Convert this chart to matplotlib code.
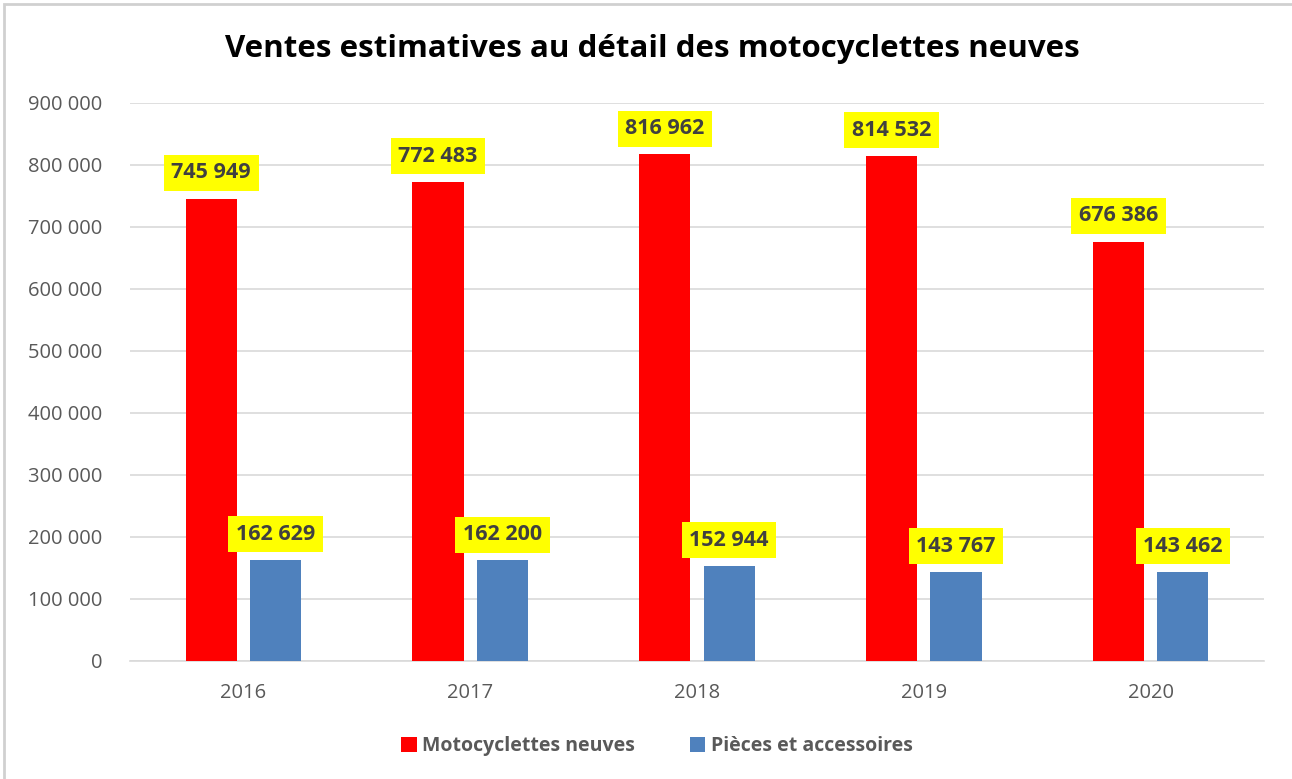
import numpy as np
import matplotlib
matplotlib.use("Agg")
import matplotlib.pyplot as plt
from matplotlib.ticker import FuncFormatter
from matplotlib.patches import Rectangle

plt.rcParams['font.family'] = ['Open Sans', 'DejaVu Sans']

years = ["2016", "2017", "2018", "2019", "2020"]
motos = [745949, 772483, 816962, 814532, 676386]
pieces = [162629, 162200, 152944, 143767, 143462]
series_names = ["Motocyclettes neuves", "Pièces et accessoires"]
colors = ["#ff0000", "#4f81bd"]

def fmt(v):
    return f"{int(v):,}".replace(",", " ")

fig = plt.figure(figsize=(12.92, 7.79), dpi=100)
ax = fig.add_axes([130/1292, 1 - 661/779, 1134/1292, 558/779])

x = np.arange(len(years))
w = 0.225
off = 0.142
b1 = ax.bar(x - off, motos, w, color=colors[0], label=series_names[0], zorder=3)
b2 = ax.bar(x + off, pieces, w, color=colors[1], label=series_names[1], zorder=3)

for bars, vals in [(b1, motos), (b2, pieces)]:
    for r, v in zip(bars, vals):
        ax.annotate(fmt(v), (r.get_x() + r.get_width()/2, v), xytext=(0, 11),
                    textcoords="offset points", ha="center", va="bottom",
                    fontsize=15.5, fontweight="bold", color="#404040", zorder=5,
                    bbox=dict(boxstyle="square,pad=0.35", fc="#ffff00", ec="none"))

ax.set_xlim(-0.5, len(years) - 0.5)
ax.set_ylim(0, 900000)
ax.set_yticks(np.arange(0, 900001, 100000))
ax.yaxis.set_major_formatter(FuncFormatter(lambda v, p: fmt(v)))
ax.set_xticks(x)
ax.set_xticklabels(years)
ax.tick_params(axis="both", length=0, labelsize=14.5, colors="#595959")
ax.tick_params(axis="y", pad=20)
ax.tick_params(axis="x", pad=16)
ax.grid(axis="y", color="#d9d9d9", linewidth=1.2, zorder=0)
for s in ["top", "right", "left"]:
    ax.spines[s].set_visible(False)
ax.spines["bottom"].set_color("#d9d9d9")
ax.spines["bottom"].set_linewidth(1.2)

fig.text(652/1292, 1 - 49/779, "Ventes estimatives au détail des motocyclettes neuves",
         ha="center", va="center", fontsize=22.5, fontweight="bold", color="black")

fig.legend(handles=[b1, b2], labels=series_names, loc="center",
           bbox_to_anchor=(657/1292, 1 - 746/779), ncol=2, frameon=False,
           prop={"size": 14, "weight": "bold"}, labelcolor="#595959",
           handlelength=0.8, handleheight=0.8, handletextpad=0.3, columnspacing=2.8)

# outer chart border
fig.add_artist(Rectangle((4/1292, -0.01), 1.1, 1 - 4/779 + 0.01, transform=fig.transFigure,
                         fill=False, ec="#d0d0d0", lw=2))

fig.savefig("out.png", dpi=100)
